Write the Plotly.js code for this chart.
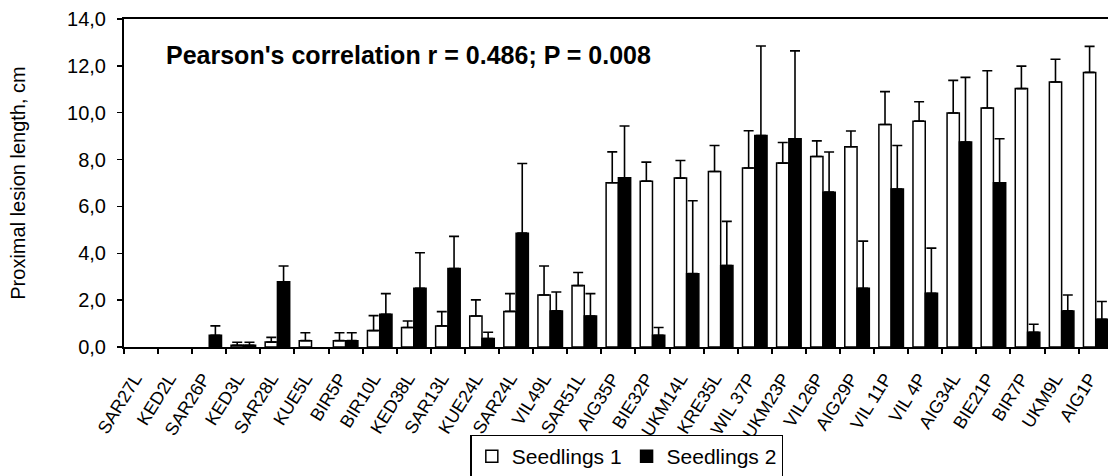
<!DOCTYPE html>
<html>
<head>
<meta charset="utf-8">
<script src="https://cdn.plot.ly/plotly-3.0.1.min.js"></script>
<style>html,body{margin:0;padding:0;background:#fff;}#chart{width:1108px;height:476px;}</style>
</head>
<body>
<div id="chart"></div>
<script>
const categories = ["SAR27L","KED2L","SAR26P","KED3L","SAR28L","KUE5L","BIR5P","BIR10L","KED38L","SAR13L","KUE24L","SAR24L","VIL49L","SAR51L","AIG35P","BIE32P","UKM14L","KRE35L","WIL 37P","UKM23P","VIL26P","AIG29P","VIL 11P","VIL 4P","AIG34L","BIE21P","BIR7P","UKM9L","AIG1P"];

const seedlings1 = [null,null,null,0.07,0.21,0.27,0.27,0.70,0.83,0.90,1.32,1.52,2.22,2.62,7.01,7.08,7.21,7.49,7.64,7.85,8.13,8.55,9.50,9.64,9.99,10.20,11.03,11.31,11.72];
const seedlings1Err = [null,null,null,0.13,0.20,0.34,0.34,0.64,0.28,0.61,0.69,0.76,1.24,0.56,1.32,0.81,0.75,1.11,1.59,0.88,0.67,0.67,1.40,0.83,1.39,1.59,0.96,0.97,1.11];

const seedlings2 = [null,null,0.50,0.07,2.78,null,0.27,1.40,2.51,3.35,0.36,4.86,1.54,1.32,7.22,0.50,3.13,3.48,9.03,8.89,6.61,2.51,6.74,2.29,8.75,7.01,0.63,1.54,1.18];
const seedlings2Err = [null,null,0.40,0.13,0.68,null,0.34,0.88,1.51,1.37,0.27,2.97,0.81,0.96,2.21,0.33,3.11,1.88,3.82,3.75,1.71,2.01,1.86,1.93,2.76,1.88,0.34,0.68,0.76];

const yTicks = [0,2,4,6,8,10,12,14];
const note = "Pearson's correlation r = 0.486; P = 0.008";

const FONT = "Liberation Sans, Arial, sans-serif";

const traces = [
  {
    type: "bar", name: "Seedlings 1", x: categories, y: seedlings1,
    marker: {color: "#ffffff", line: {color: "#000000", width: 1.5}},
    error_y: {type: "data", symmetric: false, array: seedlings1Err, arrayminus: seedlings1Err.map(() => 0), color: "#000000", thickness: 1.6, width: 5}
  },
  {
    type: "bar", name: "Seedlings 2", x: categories, y: seedlings2,
    marker: {color: "#000000", line: {color: "#000000", width: 1.5}},
    error_y: {type: "data", symmetric: false, array: seedlings2Err, arrayminus: seedlings2Err.map(() => 0), color: "#000000", thickness: 1.6, width: 5}
  }
];

const layout = {
  width: 1108, height: 476,
  margin: {l: 124, r: 0, t: 19, b: 129, pad: 0, autoexpand: false},
  paper_bgcolor: "#ffffff", plot_bgcolor: "#ffffff",
  separators: ",.",
  font: {family: FONT, color: "#000000", size: 18},
  barmode: "group", bargap: 0.28, bargroupgap: 0,
  showlegend: true,
  legend: {
    orientation: "h", x: 0.511, xanchor: "center", y: -0.267, yanchor: "top",
    bordercolor: "#000000", borderwidth: 1.5, bgcolor: "#ffffff",
    font: {family: FONT, size: 21, color: "#000000"},
    itemwidth: 30, tracegroupgap: 0, traceorder: "normal"
  },
  xaxis: {
    type: "category", range: [-0.5, 28.36], fixedrange: true,
    showline: true, linecolor: "#000000", linewidth: 2, mirror: true,
    ticks: "outside", tickson: "boundaries", ticklen: 5, tickwidth: 2, tickcolor: "#000000",
    tickangle: -58, tickfont: {family: FONT, size: 18, color: "#000000"},
    ticklabelstandoff: 12, ticklabelshift: -6,
    showgrid: false, zeroline: false, automargin: false
  },
  yaxis: {
    range: [0, 14], tickvals: yTicks, tickformat: ".1f", fixedrange: true,
    showline: true, linecolor: "#000000", linewidth: 2, mirror: false,
    ticks: "outside", ticklen: 5, tickwidth: 1.5, tickcolor: "#000000",
    tickfont: {family: FONT, size: 20, color: "#000000"},
    ticklabelstandoff: 7,
    showgrid: false, zeroline: false, automargin: false,
    title: {text: "Proximal lesion length, cm", font: {family: FONT, size: 20, color: "#000000"}, standoff: 36}
  },
  annotations: [{
    text: "<b>" + note + "</b>", xref: "paper", yref: "paper", x: 0.0407, y: 0.89,
    xanchor: "left", yanchor: "middle", showarrow: false,
    font: {family: FONT, size: 25, color: "#000000"}
  }]
};

Plotly.newPlot("chart", traces, layout, {displayModeBar: false, staticPlot: true});
</script>
</body>
</html>
